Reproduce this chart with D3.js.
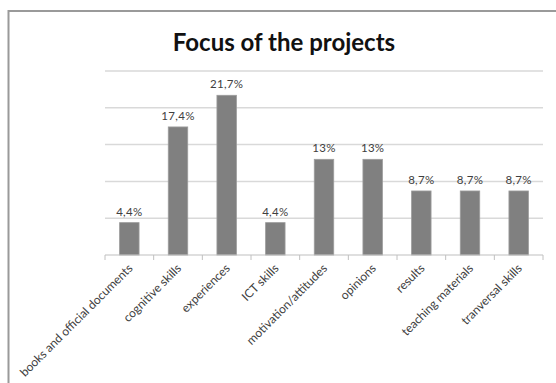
<!DOCTYPE html>
<html>
<head>
<meta charset="utf-8">
<script src="https://cdn.jsdelivr.net/npm/d3@7"></script>
<style>
  html, body { margin: 0; padding: 0; background: #fff; }
  svg { display: block; }
</style>
</head>
<body>
<div id="chart"></div>
<script>
// Share of projects by focus area (percent)
const categories = [
  "books and official documents",
  "cognitive skills",
  "experiences",
  "ICT skills",
  "motivation/attitudes",
  "opinions",
  "results",
  "teaching materials",
  "tranversal skills"
];
const values = [4.4, 17.4, 21.7, 4.4, 13, 13, 8.7, 8.7, 8.7];
const valueLabels = ["4,4%", "17,4%", "21,7%", "4,4%", "13%", "13%", "8,7%", "8,7%", "8,7%"];
const gridTicks = [5, 10, 15, 20, 25];
const chartTitle = "Focus of the projects";

const width = 556, height = 383;
const plot = { left: 105, right: 543, top: 71, bottom: 255 };

const svg = d3.select("#chart").append("svg")
  .attr("width", width)
  .attr("height", height);

// chart frame (continues past the window edge on the right and bottom)
svg.append("rect")
  .attr("x", 8.5).attr("y", 11)
  .attr("width", 600).attr("height", 400)
  .attr("fill", "#fff")
  .attr("stroke", "#9a9a9a")
  .attr("stroke-width", 2);

const x = d3.scaleBand()
  .domain(categories)
  .range([plot.left, plot.right])
  .paddingInner(0.6)
  .paddingOuter(0.3);

const y = d3.scaleLinear()
  .domain([0, 25])
  .range([plot.bottom, plot.top]);

// horizontal gridlines
svg.append("g")
  .selectAll("line")
  .data(gridTicks)
  .join("line")
  .attr("x1", plot.left).attr("x2", plot.right)
  .attr("y1", d => y(d)).attr("y2", d => y(d))
  .attr("stroke", "#d9d9d9")
  .attr("stroke-width", 1.5);

// bars
svg.append("g")
  .selectAll("rect")
  .data(values)
  .join("rect")
  .attr("x", (d, i) => x(categories[i]))
  .attr("y", d => y(d))
  .attr("width", x.bandwidth())
  .attr("height", d => y(0) - y(d))
  .attr("fill", "#808080")
  .attr("stroke", "#9c9c9c")
  .attr("stroke-width", 0.8);

// value labels
svg.append("g")
  .selectAll("text")
  .data(values)
  .join("text")
  .attr("x", (d, i) => x(categories[i]) + x.bandwidth() / 2)
  .attr("y", d => y(d) - 7)
  .attr("text-anchor", "middle")
  .attr("font-family", "Lato, 'Open Sans', sans-serif")
  .attr("font-size", 11.5)
  .attr("letter-spacing", 0.3)
  .attr("fill", "#404040")
  .text((d, i) => valueLabels[i]);

// category axis with tick marks at band boundaries
const axis = svg.append("g");
axis.append("line")
  .attr("x1", plot.left).attr("x2", plot.right)
  .attr("y1", y(0)).attr("y2", y(0))
  .attr("stroke", "#c0c0c0")
  .attr("stroke-width", 1.2);

const step = x.step();
const boundaries = d3.range(categories.length + 1).map(i => plot.left + i * step);
axis.selectAll("line.tick")
  .data(boundaries)
  .join("line")
  .attr("class", "tick")
  .attr("x1", d => d).attr("x2", d => d)
  .attr("y1", y(0)).attr("y2", y(0) + 5)
  .attr("stroke", "#c0c0c0")
  .attr("stroke-width", 1);

axis.selectAll("text")
  .data(categories)
  .join("text")
  .attr("transform", d => `translate(${x(d) + x.bandwidth() / 2 + 4},${y(0) + 14}) rotate(-45)`)
  .attr("text-anchor", "end")
  .attr("font-family", "Lato, 'Open Sans', sans-serif")
  .attr("font-size", 12)
  .attr("fill", "#404040")
  .text(d => d);

// title
svg.append("text")
  .attr("x", 284)
  .attr("y", 51)
  .attr("text-anchor", "middle")
  .attr("font-family", "Lato, 'Open Sans', sans-serif")
  .attr("font-weight", "bold")
  .attr("font-size", 24)
  .attr("fill", "#111")
  .text(chartTitle);
</script>
</body>
</html>
